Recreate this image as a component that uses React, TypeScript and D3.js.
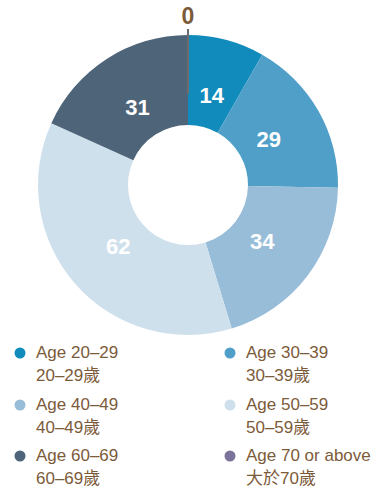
import React from "react";
import * as d3 from "d3";

const categories = ["Age 20–29", "Age 30–39", "Age 40–49", "Age 50–59", "Age 60–69", "Age 70 or above"];
const categoriesZh = ["20–29歲", "30–39歲", "40–49歲", "50–59歲", "60–69歲", "大於70歲"];
const values = [14, 29, 34, 62, 31, 0];
const colors = ["#118bbb", "#4f9fc8", "#98bdd9", "#cfe0ed", "#4e6479", "#7b7399"];

const W = 388;
const H = 493;
const cx = 188;
const cy = 185;
const outerR = 150;
const innerR = 60;
const labelR = 93;
const brown = "#7c5b3a";
const font = "'Liberation Sans', Arial, 'Noto Sans CJK TC', sans-serif";

export default function App() {
  const pie = d3.pie<number>().sort(null).value((d) => d)(values);
  const arc = d3.arc<d3.PieArcDatum<number>>().innerRadius(innerR).outerRadius(outerR);
  const labelArc = d3.arc<d3.PieArcDatum<number>>().innerRadius(labelR).outerRadius(labelR);

  const legendCols = [20, 230];
  const legendRows = [353, 405, 456];

  return (
    <svg width={W} height={H} style={{ position: "absolute", left: 0, top: 0 }} fontFamily={font}>
      <g transform={`translate(${cx},${cy})`}>
        {pie.map((p, i) =>
          p.value > 0 ? <path key={i} d={arc(p) || ""} fill={colors[i]} /> : null
        )}
        {pie.map((p, i) => {
          if (p.value > 0) {
            const [x, y] = labelArc.centroid(p);
            return (
              <text key={"l" + i} x={x} y={y} dy="0.36em" textAnchor="middle" fill="#ffffff" fontWeight="bold" fontSize={22}>
                {values[i]}
              </text>
            );
          }
          const a = p.startAngle;
          const r1 = outerR + 6;
          const r2 = outerR - 59;
          return (
            <g key={"z" + i}>
              <line
                x1={r1 * Math.sin(a)}
                y1={-r1 * Math.cos(a)}
                x2={r2 * Math.sin(a)}
                y2={-r2 * Math.cos(a)}
                stroke="#6d6b6e"
                strokeWidth={2}
              />
              <text x={(outerR + 19) * Math.sin(a)} y={-(outerR + 19) * Math.cos(a)} dy="0.36em" textAnchor="middle" fill={brown} fontWeight="bold" fontSize={23}>
                {values[i]}
              </text>
            </g>
          );
        })}
      </g>
      {categories.map((c, i) => {
        const col = i % 2;
        const row = Math.floor(i / 2);
        const x = legendCols[col];
        const y = legendRows[row];
        return (
          <g key={"lg" + i}>
            <circle cx={x} cy={y} r={5.5} fill={colors[i]} />
            <text x={x + 16} y={y + 5} fontSize={17} fill={brown}>
              {c}
            </text>
            <text x={x + 16} y={y + 28} fontSize={17} fill={brown}>
              {categoriesZh[i]}
            </text>
          </g>
        );
      })}
    </svg>
  );
}
